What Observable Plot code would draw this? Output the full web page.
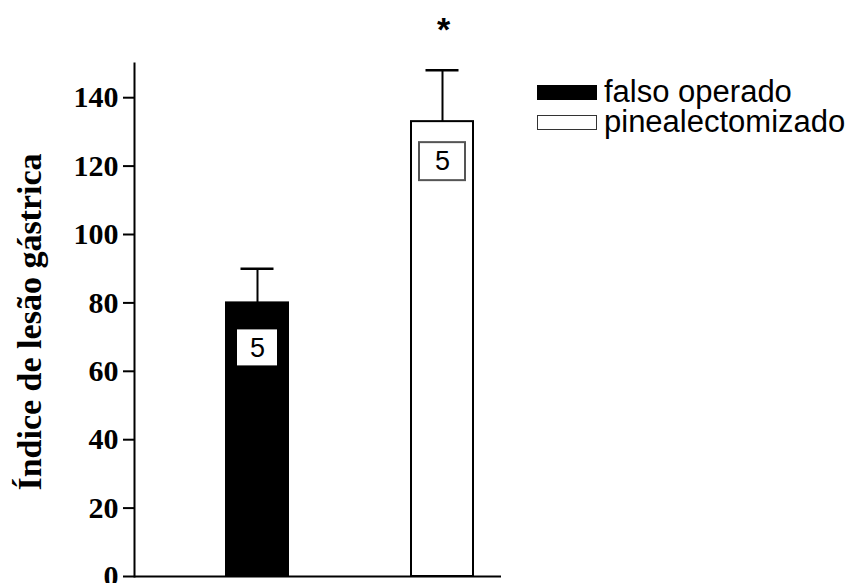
<!DOCTYPE html>
<html>
<head>
<meta charset="utf-8">
<script src="https://cdn.jsdelivr.net/npm/d3@7"></script>
<script src="https://cdn.jsdelivr.net/npm/@observablehq/plot@0.6"></script>
<style>
  html, body { margin: 0; padding: 0; background: #fff; }
  #wrap { position: relative; width: 866px; height: 583px; }
  #legend { position: absolute; left: 537px; top: 77px; font-family: "Liberation Sans", Arial, sans-serif; font-size: 31px; color: #000; }
  .row { display: flex; align-items: center; height: 30px; }
  .row span { display: inline-block; line-height: 28px; height: 28px; }
  .sw { width: 60px; height: 15px; margin-right: 7px; box-sizing: border-box; }
</style>
</head>
<body>
<div id="wrap"></div>
<script>
const groups = ["falso operado", "pinealectomizado"];
const means = [80, 133];
const errors = [10, 15];
const nLabels = ["5", "5"];
const sigMarks = ["", "*"];
const fills = ["#000", "#fff"];
const yTicks = [0, 20, 40, 60, 80, 100, 120, 140];
const yLabel = "Índice de lesão gástrica";

const data = groups.map((g, i) => ({group: g, mean: means[i], err: errors[i], n: nLabels[i], sig: sigMarks[i], fill: fills[i]}));
const first = data.filter((d, i) => i === 0);
const second = data.filter((d, i) => i === 1);

const serif = "'Liberation Serif', 'Times New Roman', serif";
const sans = "'Liberation Sans', Arial, sans-serif";

const chart = Plot.plot({
  width: 866,
  height: 583,
  marginLeft: 134,
  marginRight: 365,
  marginTop: 63,
  marginBottom: 7,
  style: {background: "#fff", color: "#000", overflow: "visible"},
  x: {domain: groups, range: [133.5, 565.5], paddingInner: 0.665, paddingOuter: 0.5, axis: null},
  y: {domain: [0, 150], axis: null},
  marks: [
    Plot.barY(data, {x: "group", y: "mean", fill: "fill", stroke: "#000", strokeWidth: 2}),
    Plot.ruleX(data, {x: "group", y1: "mean", y2: d => d.mean + d.err, stroke: "#000", strokeWidth: 2}),
    Plot.tickY(data, {x: "group", y: d => d.mean + d.err, insetLeft: 14.5, insetRight: 14.5, stroke: "#000", strokeWidth: 2.5}),
    Plot.barY(first, {x: "group", y1: "mean", y2: "mean", insetTop: 27, insetBottom: -63, insetLeft: 11, insetRight: 11, fill: "#fff"}),
    Plot.barY(second, {x: "group", y1: "mean", y2: "mean", insetTop: 21, insetBottom: -59, insetLeft: 8, insetRight: 8, fill: "#fff", stroke: "#555", strokeWidth: 2}),
    Plot.text(first, {x: "group", y: "mean", text: "n", dy: 45, fontSize: 27, fontFamily: sans, fill: "#000"}),
    Plot.text(second, {x: "group", y: "mean", text: "n", dy: 40, fontSize: 27, fontFamily: sans, fill: "#000"}),
    Plot.text(data, {x: "group", y: d => d.mean + d.err, text: "sig", dy: -40, dx: 1, fontSize: 34, fontWeight: "bold", fontFamily: sans, fill: "#000"}),
    Plot.ruleY([0], {stroke: "#000", strokeWidth: 2}),
    Plot.frame({anchor: "left", stroke: "#000", strokeWidth: 2}),
    Plot.axisY({ticks: yTicks, tickSize: 11, tickPadding: 5, tickFormat: d => String(d), label: null,
      fontSize: 30, fontWeight: "bold", fontFamily: serif, stroke: "#000", strokeWidth: 2}),
    Plot.text([yLabel], {frameAnchor: "left", dx: -104, dy: 2, rotate: -90, textAnchor: "middle", lineAnchor: "middle",
      fontSize: 34, fontWeight: "bold", fontFamily: serif, fill: "#000"})
  ]
});

const wrap = document.getElementById("wrap");
wrap.appendChild(chart);

const legend = document.createElement("div");
legend.id = "legend";
groups.forEach((g, i) => {
  const row = document.createElement("div");
  row.className = "row";
  const sw = document.createElement("div");
  sw.className = "sw";
  sw.style.background = fills[i];
  sw.style.border = i === 0 ? "none" : "1.5px solid #333";
  const t = document.createElement("span");
  t.textContent = g;
  row.appendChild(sw);
  row.appendChild(t);
  legend.appendChild(row);
});
wrap.appendChild(legend);
</script>
</body>
</html>
